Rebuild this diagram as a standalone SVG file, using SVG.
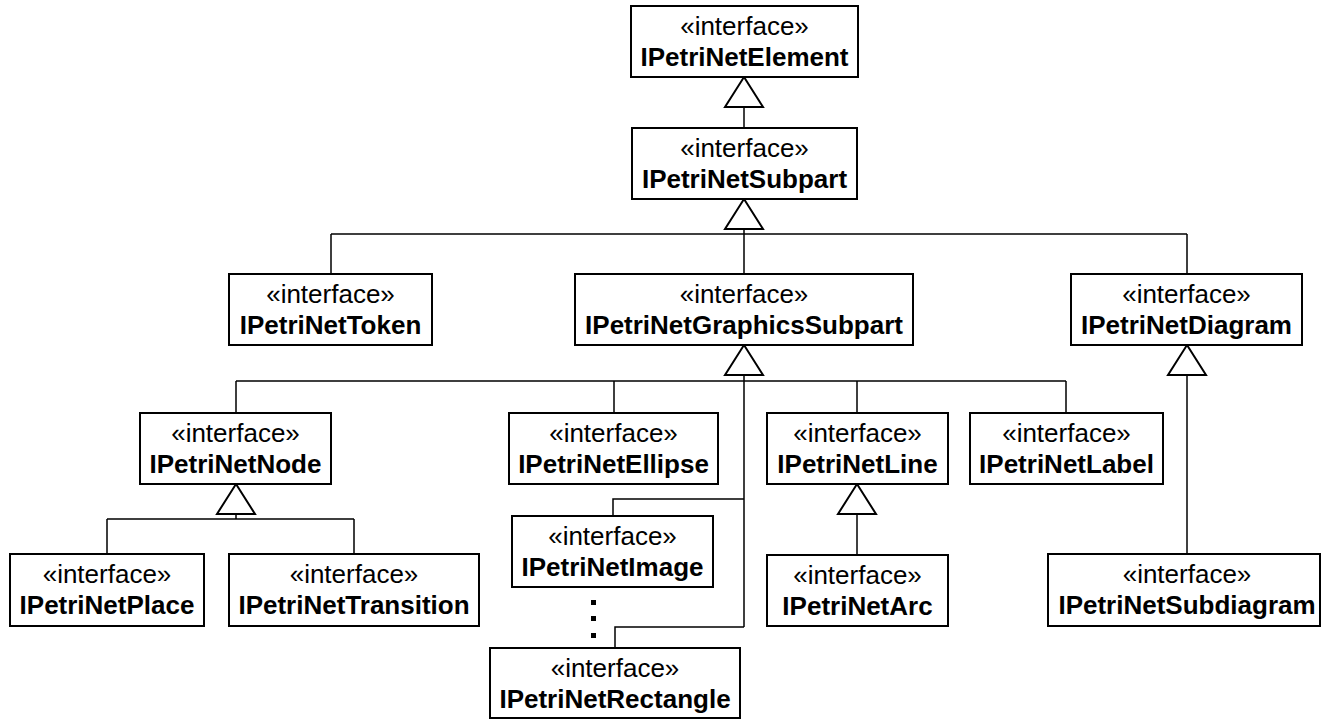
<svg xmlns="http://www.w3.org/2000/svg" xmlns:xlink="http://www.w3.org/1999/xlink" width="1322" height="720" viewBox="0 0 1322 720">
<style>
.box{fill:#fff;stroke:#000;stroke-width:2}
.st{font-family:"Liberation Sans",Arial,sans-serif;font-size:26px;text-anchor:middle;fill:#000}
.nm{font-family:"Liberation Sans",Arial,sans-serif;font-size:26px;font-weight:bold;text-anchor:middle;fill:#000}
.ln{fill:none;stroke:#000;stroke-width:1.5}
.tri{fill:#fff;stroke:#000;stroke-width:2;stroke-linejoin:miter}
.dot{fill:#000}
</style>
<defs>
<path id="gen" class="tri" d="M0,0 L19,30 L-19,30 Z"/>
</defs>
<rect width="1322" height="720" fill="#fff"/>
<g id="connectors">
<path class="ln" d="M744,107 V128"/>
<path class="ln" d="M744,229 V234 M331,234 H1187 M331,234 V274 M744,234 V274 M1187,234 V274"/>
<path class="ln" d="M744,375 V627 M236,381 H1066 M236,381 V413 M614,381 V413 M857,381 V413 M1066,381 V413"/>
<path class="ln" d="M744,499 H613 V516"/>
<path class="ln" d="M744,627 H615 V648"/>
<path class="ln" d="M236,513 V519 M107,519 H354 M107,519 V554 M354,519 V554"/>
<path class="ln" d="M857,513 V555"/>
<path class="ln" d="M1187,375 V554"/>
<use xlink:href="#gen" href="#gen" x="744" y="77"/>
<use xlink:href="#gen" href="#gen" x="744" y="199"/>
<use xlink:href="#gen" href="#gen" x="744" y="345"/>
<use xlink:href="#gen" href="#gen" x="1187" y="345"/>
<use xlink:href="#gen" href="#gen" x="236" y="484"/>
<use xlink:href="#gen" href="#gen" x="857" y="484"/>
<rect class="dot" x="591" y="600" width="5" height="5"/>
<rect class="dot" x="591" y="616" width="5" height="5"/>
<rect class="dot" x="591" y="633" width="5" height="5"/>
</g>
<g id="IPetriNetElement">
<rect class="box" x="631" y="6" width="227" height="71"/>
<text class="st" x="744.5" y="35">«interface»</text>
<text class="nm" x="744.5" y="66">IPetriNetElement</text>
</g>
<g id="IPetriNetSubpart">
<rect class="box" x="632" y="128" width="225" height="71"/>
<text class="st" x="744.5" y="157">«interface»</text>
<text class="nm" x="744.5" y="188">IPetriNetSubpart</text>
</g>
<g id="IPetriNetToken">
<rect class="box" x="229" y="274" width="203" height="71"/>
<text class="st" x="330.5" y="303">«interface»</text>
<text class="nm" x="330.5" y="334">IPetriNetToken</text>
</g>
<g id="IPetriNetGraphicsSubpart">
<rect class="box" x="575" y="274" width="338" height="71"/>
<text class="st" x="744" y="303">«interface»</text>
<text class="nm" x="744" y="334">IPetriNetGraphicsSubpart</text>
</g>
<g id="IPetriNetDiagram">
<rect class="box" x="1071" y="274" width="231" height="71"/>
<text class="st" x="1186.5" y="303">«interface»</text>
<text class="nm" x="1186.5" y="334">IPetriNetDiagram</text>
</g>
<g id="IPetriNetNode">
<rect class="box" x="140" y="413" width="191" height="71"/>
<text class="st" x="235.5" y="442">«interface»</text>
<text class="nm" x="235.5" y="473">IPetriNetNode</text>
</g>
<g id="IPetriNetEllipse">
<rect class="box" x="509" y="413" width="209" height="71"/>
<text class="st" x="613.5" y="442">«interface»</text>
<text class="nm" x="613.5" y="473">IPetriNetEllipse</text>
</g>
<g id="IPetriNetLine">
<rect class="box" x="767" y="413" width="181" height="71"/>
<text class="st" x="857.5" y="442">«interface»</text>
<text class="nm" x="857.5" y="473">IPetriNetLine</text>
</g>
<g id="IPetriNetLabel">
<rect class="box" x="970" y="413" width="193" height="71"/>
<text class="st" x="1066.5" y="442">«interface»</text>
<text class="nm" x="1066.5" y="473">IPetriNetLabel</text>
</g>
<g id="IPetriNetImage">
<rect class="box" x="512" y="516" width="201" height="71"/>
<text class="st" x="612.5" y="545">«interface»</text>
<text class="nm" x="612.5" y="576">IPetriNetImage</text>
</g>
<g id="IPetriNetPlace">
<rect class="box" x="10" y="554" width="194" height="72"/>
<text class="st" x="107" y="583">«interface»</text>
<text class="nm" x="107" y="614">IPetriNetPlace</text>
</g>
<g id="IPetriNetTransition">
<rect class="box" x="229" y="554" width="250" height="72"/>
<text class="st" x="354" y="583">«interface»</text>
<text class="nm" x="354" y="614">IPetriNetTransition</text>
</g>
<g id="IPetriNetArc">
<rect class="box" x="767" y="555" width="181" height="71"/>
<text class="st" x="857.5" y="584">«interface»</text>
<text class="nm" x="857.5" y="615">IPetriNetArc</text>
</g>
<g id="IPetriNetSubdiagram">
<rect class="box" x="1048" y="554" width="272" height="72"/>
<text class="st" x="1187" y="583">«interface»</text>
<text class="nm" x="1187" y="614">IPetriNetSubdiagram</text>
</g>
<g id="IPetriNetRectangle">
<rect class="box" x="490" y="648" width="250" height="70"/>
<text class="st" x="615" y="677">«interface»</text>
<text class="nm" x="615" y="708">IPetriNetRectangle</text>
</g>
</svg>
